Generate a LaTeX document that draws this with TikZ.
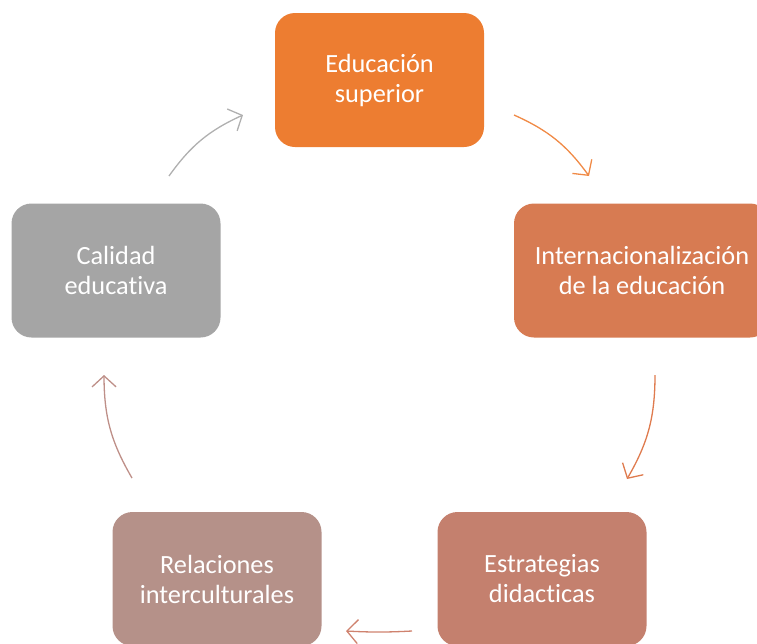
\documentclass[tikz,border=0pt]{standalone}
\usepackage{fontspec}
\setmainfont{Carlito}[Ligatures=NoCommon]
\usetikzlibrary{arrows.meta}
\definecolor{cA}{HTML}{ED7D31}
\definecolor{cB}{HTML}{D77B52}
\definecolor{cC}{HTML}{C4806E}
\definecolor{cD}{HTML}{B59189}
\definecolor{cE}{HTML}{A5A5A5}
\definecolor{aA}{HTML}{F08A46}
\definecolor{aB}{HTML}{DF7B4E}
\definecolor{aC}{HTML}{CF826E}
\definecolor{aD}{HTML}{BE8F88}
\definecolor{aE}{HTML}{B0B0B0}
\tikzset{
  box/.style={rounded corners=20pt, minimum width=209pt, minimum height=134pt,
    text=white, align=center, inner sep=0pt,
    font=\fontsize{26.3pt}{30pt}\selectfont},
  conn/.style={line width=1.3pt, -{Straight Barb[length=11pt,width=24pt,line width=1.3pt]}}
}
\begin{document}
\begin{tikzpicture}[x=1pt,y=-1pt]
\useasboundingbox (0,0) rectangle (757,643);
\clip (0,0) rectangle (757,643);
\node[box, fill=cA] (n1) at (379.5,80) {Educación\\superior};
\node[box, fill=cB, minimum width=256pt] (n2) at (642,270.5) {Internacionalización\\de la educación};
\node[box, fill=cC] (n3) at (542,579) {Estrategias\\didacticas};
\node[box, fill=cD] (n4) at (217,579) {Relaciones\\interculturales};
\node[box, fill=cE] (n5) at (116,270.5) {Calidad\\educativa};
\coordinate (a1s) at (514,115); \coordinate (a1e) at (589,176);
\coordinate (a2s) at (655,375); \coordinate (a2e) at (627,479);
\coordinate (a3s) at (412,631); \coordinate (a3e) at (346,631);
\coordinate (a4s) at (132,478); \coordinate (a4e) at (104,375);
\coordinate (a5s) at (169,176); \coordinate (a5e) at (243,115);
\draw[conn, aA] (a1s) to[bend left=15] (a1e);
\draw[conn, aB] (a2s) to[bend left=15] (a2e);
\draw[conn, aC] (a3s) to[bend left=3] (a3e);
\draw[conn, aD] (a4s) to[bend left=15] (a4e);
\draw[conn, aE] (a5s) to[bend left=15] (a5e);
\end{tikzpicture}
\end{document}
